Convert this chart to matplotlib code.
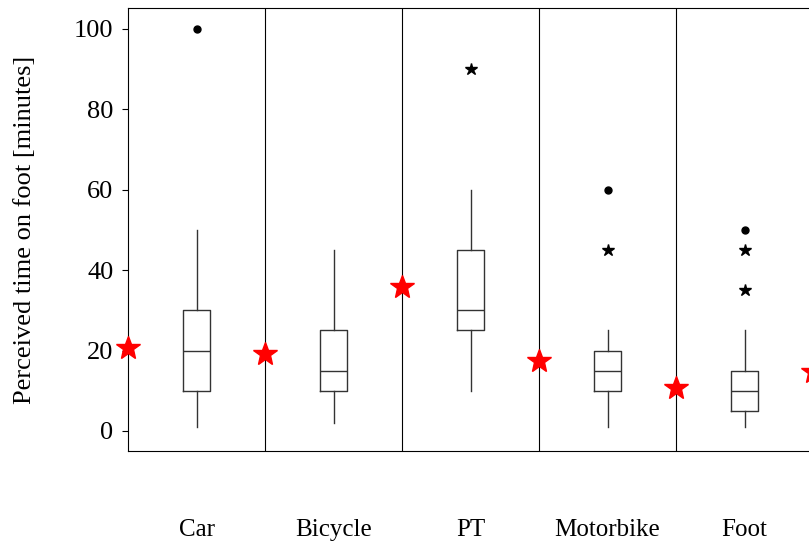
import matplotlib
matplotlib.use('Agg')
import matplotlib.pyplot as plt

# Categories and box statistics (minutes)
modes = ['Car', 'Bicycle', 'PT', 'Motorbike', 'Foot']
whisker_low = [1, 2, 10, 1, 1]
q1 = [10, 10, 25, 10, 5]
median = [20, 15, 30, 15, 10]
q3 = [30, 25, 45, 20, 15]
whisker_high = [50, 45, 60, 25, 25]

# Outliers: circles (mild) and stars (extreme)
circle_outliers = [[100], [], [], [60], [50]]
star_outliers = [[], [], [90], [45], [45, 35]]

# Red stars sitting on the panel boundaries
ref_pos = [0.5, 1.5, 2.5, 3.5, 4.5, 5.5]
ref_values = [20.6, 19.2, 35.7, 17.4, 10.7, 14.7]

plt.rcParams['font.family'] = ['Liberation Serif', 'DejaVu Serif']

fig = plt.figure(figsize=(8.09, 5.42), dpi=100)
ax = fig.add_axes([128 / 809, 1 - 451 / 542, 685 / 809, 443 / 542])

stats = []
for i, m in enumerate(modes):
    stats.append({'label': m, 'whislo': whisker_low[i], 'q1': q1[i],
                  'med': median[i], 'q3': q3[i], 'whishi': whisker_high[i],
                  'fliers': []})

line = dict(color='#333333', linewidth=1.0)
positions = list(range(1, len(modes) + 1))
ax.bxp(stats, positions=positions, widths=0.2, showcaps=False,
       showfliers=False, boxprops=line, whiskerprops=line,
       medianprops=line)

for p, vals in zip(positions, circle_outliers):
    if vals:
        ax.plot([p] * len(vals), vals, 'o', color='black', markersize=5)
for p, vals in zip(positions, star_outliers):
    if vals:
        ax.plot([p] * len(vals), vals, '*', color='black', markersize=9)

# panel separators
for p in positions[:-1]:
    ax.axvline(p + 0.5, color='black', linewidth=0.8)

ax.plot(ref_pos, ref_values, '*', color='red', markersize=18,
        linestyle='none', clip_on=False, zorder=5)

ax.set_xlim(0.5, 5.5)
ax.set_ylim(-5, 105.2)
ax.set_yticks([0, 20, 40, 60, 80, 100])
ax.set_xticks(positions)
ax.set_xticklabels(modes, fontsize=18)
ax.tick_params(axis='x', length=0, pad=49)
ax.tick_params(axis='y', length=4.5, width=0.8, pad=6, labelsize=19)
ax.set_ylabel('Perceived time on foot [minutes]', fontsize=19, labelpad=27)
for s in ax.spines.values():
    s.set_linewidth(0.8)

plt.savefig('out.png', dpi=100)
